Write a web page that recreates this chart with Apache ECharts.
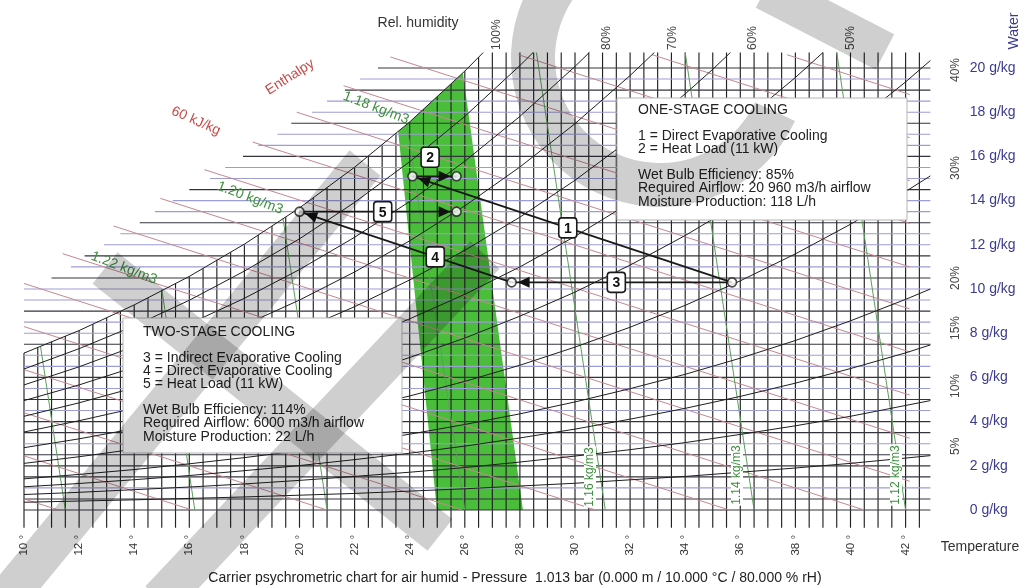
<!DOCTYPE html>
<html>
<head>
<meta charset="utf-8">
<script src="https://cdn.jsdelivr.net/npm/echarts/dist/echarts.min.js"></script>
<style>
  html, body { margin: 0; padding: 0; background: #ffffff; }
  #chart { width: 1024px; height: 588px; }
</style>
</head>
<body>
<div id="chart"></div>
<script>
// ---- Axis ticks -------------------------------------------------------
const tempTicks = [10, 12, 14, 16, 18, 20, 22, 24, 26, 28, 30, 32, 34, 36, 38, 40, 42];
const waterTicks = [0, 2, 4, 6, 8, 10, 12, 14, 16, 18, 20];

// dry-bulb isotherms (°C)
const isotherms = [10, 10.5, 11, 11.5, 12, 12.5, 13, 13.5, 14, 14.5, 15, 15.5, 16, 16.5, 17, 17.5,
  18, 18.5, 19, 19.5, 20, 20.5, 21, 21.5, 22, 22.5, 23, 23.5, 24, 24.5, 25, 25.5, 26, 26.5,
  27, 27.5, 28, 28.5, 29, 29.5, 30, 30.5, 31, 31.5, 32, 32.5, 33, 33.5, 34, 34.5, 35, 35.5,
  36, 36.5, 37, 37.5, 38, 38.5, 39, 39.5, 40, 40.5, 41, 41.5, 42, 42.5];

// constant water-content lines (g/kg) and the temperature where each one starts
const waterLevels = [0, 0.5, 1, 1.5, 2, 2.5, 3, 3.5, 4, 4.5, 5, 5.5, 6, 6.5, 7, 7.5, 8, 8.5, 9, 9.5,
  10, 10.5, 11, 11.5, 12, 12.5, 13, 13.5, 14, 14.5, 15, 15.5, 16, 16.5, 17, 17.5, 18, 18.5, 19, 19.5, 20];
const waterLineStart = [10, 10, 10, 10, 10, 10, 10, 10, 10, 10, 10, 10, 10, 10, 10, 10, 10, 10, 10, 10,
  10, 11.0, 11.7, 12.2, 12.9, 13.5, 14.2, 14.75, 15.4, 16.0, 16.75, 17.3, 17.95, 18.5, 19.2, 19.7,
  20.45, 21.0, 21.65, 22.2, 22.85];

// relative humidity curves [T °C, x g/kg]
const rh100 = [[10, 7.10], [12, 8.12], [14, 9.28], [16, 10.57], [18, 12.03], [20, 13.67], [22, 15.51], [24, 17.56], [26, 19.86], [26.67, 20.7]];
const rh90 = [[10, 6.38], [12, 7.30], [14, 8.33], [16, 9.49], [18, 10.81], [20, 12.27], [22, 13.92], [24, 15.76], [26, 17.81], [28, 20.11], [28.48, 20.7]];
const rh80 = [[10, 5.66], [12, 6.48], [14, 7.40], [16, 8.42], [18, 9.58], [20, 10.88], [22, 12.34], [24, 13.96], [26, 15.78], [28, 17.81], [30, 20.07], [30.52, 20.7]];
const rh70 = [[10, 4.95], [12, 5.66], [14, 6.46], [16, 7.36], [18, 8.37], [20, 9.50], [22, 10.77], [24, 12.18], [26, 13.76], [28, 15.52], [30, 17.48], [32, 19.66], [32.88, 20.7]];
const rh60 = [[10, 4.24], [12, 4.85], [14, 5.53], [16, 6.30], [18, 7.15], [20, 8.12], [22, 9.20], [24, 10.41], [26, 11.75], [28, 13.25], [30, 14.92], [32, 16.77], [34, 18.83], [35, 19.94], [35.64, 20.7]];
const rh50 = [[10, 3.53], [12, 4.04], [14, 4.60], [16, 5.24], [18, 5.95], [20, 6.76], [22, 7.65], [24, 8.65], [26, 9.76], [28, 11.00], [30, 12.38], [32, 13.91], [34, 15.61], [36, 17.49], [38, 19.57], [39, 20.7]];
const rh40 = [[10, 2.82], [12, 3.22], [14, 3.68], [16, 4.18], [18, 4.75], [20, 5.39], [22, 6.10], [24, 6.90], [26, 7.78], [28, 8.77], [30, 9.86], [32, 11.08], [34, 12.42], [36, 13.91], [38, 15.55], [40, 17.37], [42, 19.37], [42.9, 20.34]];
const rh30 = [[10, 2.11], [12, 2.41], [14, 2.75], [16, 3.13], [18, 3.56], [20, 4.04], [22, 4.57], [24, 5.16], [26, 5.82], [28, 6.55], [30, 7.37], [32, 8.27], [34, 9.26], [36, 10.37], [38, 11.59], [40, 12.93], [42, 14.41], [42.9, 15.12]];
const rh20 = [[10, 1.41], [12, 1.61], [14, 1.83], [16, 2.09], [18, 2.37], [20, 2.68], [22, 3.04], [24, 3.43], [26, 3.87], [28, 4.35], [30, 4.89], [32, 5.49], [34, 6.14], [36, 6.87], [38, 7.67], [40, 8.56], [42, 9.53], [42.9, 10.0]];
const rh15 = [[10, 1.05], [12, 1.20], [14, 1.37], [16, 1.56], [18, 1.78], [20, 2.01], [22, 2.28], [24, 2.57], [26, 2.89], [28, 3.26], [30, 3.66], [32, 4.11], [34, 4.60], [36, 5.14], [38, 5.74], [40, 6.40], [42, 7.11], [42.9, 7.47]];
const rh10 = [[10, 0.70], [12, 0.80], [14, 0.92], [16, 1.04], [18, 1.18], [20, 1.34], [22, 1.52], [24, 1.71], [26, 1.92], [28, 2.17], [30, 2.44], [32, 2.73], [34, 3.05], [36, 3.42], [38, 3.81], [40, 4.24], [42, 4.73], [42.9, 4.95]];
const rh5 = [[10, 0.35], [14, 0.46], [18, 0.59], [22, 0.75], [26, 0.96], [30, 1.21], [34, 1.52], [38, 1.90], [40, 2.11], [42, 2.35], [42.9, 2.46]];
const rhCurves = [rh100, rh90, rh80, rh70, rh60, rh50, rh40, rh30, rh20, rh15, rh10, rh5];

// enthalpy lines, 5 kJ/kg apart: [T1, x1, T2, x2]
const enthalpyLines = [
  [37.7, 20.6, 42.15, 18.8], [32.8, 20.6, 42.15, 16.85], [27.95, 20.6, 42.15, 14.9],
  [23.3, 20.5, 42.15, 12.97], [21.6, 19.2, 42.15, 11.0], [19.9, 18.0, 42.15, 9.1],
  [18.3, 16.65, 42.15, 7.15], [16.55, 15.4, 42.15, 5.2], [14.95, 14.1, 42.15, 3.25],
  [13.25, 12.85, 42.15, 1.3], [11.4, 11.6, 40.5, 0], [10, 10.25, 35.6, 0],
  [10, 8.3, 30.75, 0], [10, 6.35, 25.9, 0], [10, 4.4, 21.0, 0], [10, 2.45, 16.1, 0],
  [10, 0.5, 11.25, 0]
];

// air density lines: [T at 0 g/kg, 0, T at top, x at top]
const densityValues = [1.24, 1.22, 1.20, 1.18, 1.16, 1.14, 1.12];
const densityLines = [
  [11.5, 0, 10.6, 7.4], [16.2, 0, 15.0, 10.0], [21.0, 0, 19.4, 13.2], [26.0, 0, 23.9, 17.4],
  [31.1, 0, 28.6, 20.7], [36.5, 0, 34.0, 20.7], [42.0, 0, 39.5, 20.7]
];

// comfort zone (green band)
const comfortZone = [[25.93, 19.78], [23.58, 17.15], [24.99, 0], [28.11, 0]];

// air states of the cooling processes
const stateT = [35.7, 24.1, 25.7, 27.7, 20.0, 25.7];
const stateW = [10.3, 15.1, 15.1, 10.3, 13.5, 13.5];
const processFrom = [0, 1, 0, 3, 4];
const processTo = [1, 2, 3, 4, 5];
const processNames = ['1', '2', '3', '4', '5'];

// ---- Drawing ---------------------------------------------------------
const FONT = 'Liberation Sans, Arial, Helvetica, sans-serif';
const TOP_W = 20.7;      // upper end of the isotherms
const TICK_W = -0.8;     // lower end of the isotherm ticks
const RIGHT_T = 42.9;    // right end of the water lines
const strongWaterLevels = new Set([0, 0.5, 1.5, 2, 2.5, 3.5, 4, 5, 6, 7.5, 9, 10.5, 11.5, 13, 14.5, 16, 17.5, 19, 20]);
const labelAt = [0.514, 0.4, 0.525, 0.36, 0.53];
const labelShift = [0, -19, 0, 0, 0];

const chart = echarts.init(document.getElementById('chart'), null, { renderer: 'canvas' });

function txt(x, y, text, o) {
  o = o || {};
  return {
    type: 'text', x: x, y: y, rotation: o.rot || 0, z: 100, silent: true,
    style: {
      text: text, font: (o.weight || 'normal') + ' ' + (o.size || 14) + 'px ' + FONT,
      fill: o.color || '#222', align: o.align || 'center', verticalAlign: o.va || 'middle',
      backgroundColor: o.bg, padding: o.pad
    }
  };
}

const graphics = [];
// caption / axis names
graphics.push(txt(418, 23, 'Rel. humidity', { color: '#333' }));
graphics.push(txt(1014, 31, 'Water', { rot: Math.PI / 2, color: '#3b3b8f' }));
graphics.push(txt(980, 547, 'Temperature', { color: '#333' }));
graphics.push(txt(515, 578, 'Carrier psychrometric chart for air humid - Pressure  1.013 bar (0.000 m / 10.000 \u00b0C / 80.000 % rH)', { color: '#222' }));
// enthalpy captions
graphics.push(txt(290, 77, 'Enthalpy', { rot: 0.567, color: '#c64a4a' }));
graphics.push(txt(196, 121, '60 kJ/kg', { rot: -0.42, color: '#c64a4a' }));
// density captions
graphics.push(txt(376, 108, '1.18 kg/m3', { rot: -0.367, color: '#3f8f3f' }));
graphics.push(txt(250, 198, '1.20 kg/m3', { rot: -0.367, color: '#3f8f3f' }));
graphics.push(txt(124, 268, '1.22 kg/m3', { rot: -0.367, color: '#3f8f3f' }));
graphics.push(txt(590, 477, '1.16 kg/m3', { rot: Math.PI / 2, size: 12, color: '#3f8f3f', bg: '#fff', pad: [0, 1] }));
graphics.push(txt(737, 475, '1.14 kg/m3', { rot: Math.PI / 2, size: 12, color: '#3f8f3f', bg: '#fff', pad: [0, 1] }));
graphics.push(txt(896, 475, '1.12 kg/m3', { rot: Math.PI / 2, size: 12, color: '#3f8f3f', bg: '#fff', pad: [0, 1] }));
// relative humidity captions
[['100%', 497], ['80%', 607], ['70%', 673], ['60%', 753], ['50%', 851]].forEach(function (d) {
  graphics.push(txt(d[1], 50, d[0], { rot: Math.PI / 2, size: 12, align: 'left', color: '#444' }));
});
[['40%', 82], ['30%', 180], ['20%', 290], ['15%', 340], ['10%', 398], ['5%', 455]].forEach(function (d) {
  graphics.push(txt(956, d[1], d[0], { rot: Math.PI / 2, size: 12, align: 'left', color: '#444' }));
});
// info boxes
function infoBox(x, y, w, h, tx, lines) {
  graphics.push({ type: 'rect', z: 99, silent: true, shape: { x: x, y: y, width: w, height: h },
    style: { fill: '#ffffff', stroke: '#b5b5b5', lineWidth: 1 } });
  lines.forEach(function (l) {
    graphics.push(txt(tx, l[0], l[1], { align: 'left', color: '#222' }));
  });
}
infoBox(617, 98, 290, 122, 638, [
  [110, 'ONE-STAGE COOLING'],
  [136, '1 = Direct Evaporative Cooling'],
  [149, '2 = Heat Load (11 kW)'],
  [175, 'Wet Bulb Efficiency: 85%'],
  [188, 'Required Airflow: 20 960 m3/h airflow'],
  [202, 'Moisture Production: 118 L/h']
]);
infoBox(123, 318, 279, 135, 143, [
  [332, 'TWO-STAGE COOLING'],
  [358, '3 = Indirect Evaporative Cooling'],
  [371, '4 = Direct Evaporative Cooling'],
  [384, '5 = Heat Load (11 kW)'],
  [410, 'Wet Bulb Efficiency: 114%'],
  [423, 'Required Airflow: 6000 m3/h airflow'],
  [437, 'Moisture Production: 22 L/h']
]);

// translucent grey overlay strokes across the sheet
const shade = 'rgba(0,0,0,0.19)';
graphics.push({ type: 'arc', z: 150, silent: true,
  shape: { cx: 660, cy: 58, r: 127, startAngle: 25 * Math.PI / 180, endAngle: 300 * Math.PI / 180, clockwise: true },
  style: { stroke: shade, lineWidth: 44, fill: null, lineCap: 'butt' } });
[[765, -10, 885, 52], [5, 600, 365, 163], [105, 268, 440, 535], [160, 600, 485, 255]].forEach(function (s) {
  graphics.push({ type: 'line', z: 150, silent: true,
    shape: { x1: s[0], y1: s[1], x2: s[2], y2: s[3] },
    style: { stroke: shade, lineWidth: 40, lineCap: 'butt' } });
});

function seg(api, a, b, style) {
  const p = api.coord(a), q = api.coord(b);
  return { type: 'line', shape: { x1: p[0], y1: p[1], x2: q[0], y2: q[1] }, style: style };
}

const option = {
  animation: false,
  backgroundColor: '#ffffff',
  grid: { left: 24, right: 63.3, top: 23.8, bottom: 78, containLabel: false, outerBoundsMode: 'none' },
  xAxis: {
    type: 'value', min: 10, max: 44, interval: 2,
    axisLine: { show: false }, axisTick: { show: false }, splitLine: { show: false },
    axisLabel: {
      rotate: 90, margin: 25, fontSize: 11.5, fontFamily: FONT, color: '#333',
      formatter: function (v) { return tempTicks.indexOf(v) >= 0 ? v + ' \u00b0' : ''; }
    }
  },
  yAxis: {
    type: 'value', min: 0, max: 22, interval: 2, position: 'right',
    axisLine: { show: false }, axisTick: { show: false }, splitLine: { show: false },
    axisLabel: {
      margin: 9, fontSize: 14, fontFamily: FONT, color: '#3b3b8f', align: 'left',
      formatter: function (v) { return waterTicks.indexOf(v) >= 0 ? v + ' g/kg' : ''; }
    }
  },
  graphic: graphics,
  series: [
    { // comfort band
      type: 'custom', z: 1, clip: false, silent: true, data: [[0, 0]],
      renderItem: function (params, api) {
        return { type: 'polygon', shape: { points: comfortZone.map(function (p) { return api.coord(p); }) },
          style: { fill: '#4abd3a' } };
      }
    },
    { // isotherms with ticks below the base line
      type: 'custom', z: 2, clip: false, silent: true,
      data: isotherms.map(function (t) { return [t, 0]; }),
      renderItem: function (params, api) {
        const t = api.value(0);
        return seg(api, [t, TOP_W], [t, TICK_W], { stroke: '#222222', lineWidth: 1.15 });
      }
    },
    { // blank area above the saturation curve
      type: 'custom', z: 3, clip: false, silent: true, data: [[0, 0]],
      renderItem: function (params, api) {
        const pts = rh100.map(function (p) { return api.coord(p); });
        const last = rh100[rh100.length - 1];
        const tr = api.coord([last[0], 22.6]);
        const tl = api.coord([10, 22.6]);
        const first = api.coord(rh100[0]);
        pts.push(tr, [tl[0] - 4, tl[1]], [first[0] - 4, first[1]]);
        return { type: 'polygon', shape: { points: pts }, style: { fill: '#ffffff' } };
      }
    },
    { // water content lines
      type: 'custom', z: 4, clip: false, silent: true,
      data: waterLevels.map(function (w, i) { return [waterLineStart[i], w]; }),
      renderItem: function (params, api) {
        const t0 = api.value(0), w = api.value(1);
        const strong = strongWaterLevels.has(w);
        return seg(api, [t0, w], [RIGHT_T, w], { stroke: strong ? '#34343f' : '#9d9dd6', lineWidth: strong ? 1.15 : 1.1 });
      }
    },
    { // enthalpy lines
      type: 'custom', z: 5, clip: false, silent: true,
      data: enthalpyLines.map(function (l) { return l.slice(0, 2); }),
      renderItem: function (params, api) {
        const l = enthalpyLines[params.dataIndex];
        return seg(api, [l[0], l[1]], [l[2], l[3]], { stroke: '#c48890', lineWidth: 1 });
      }
    },
    { // density lines
      type: 'custom', z: 5, clip: false, silent: true,
      data: densityLines.map(function (l) { return l.slice(0, 2); }),
      renderItem: function (params, api) {
        const l = densityLines[params.dataIndex];
        return seg(api, [l[0], l[1]], [l[2], l[3]], { stroke: '#5c9f5c', lineWidth: 1 });
      }
    },
    { // relative humidity curves
      type: 'custom', z: 6, clip: false, silent: true,
      data: rhCurves.map(function (c) { return c[0]; }),
      renderItem: function (params, api) {
        const c = rhCurves[params.dataIndex];
        return { type: 'polyline', shape: { points: c.map(function (p) { return api.coord(p); }) },
          style: { stroke: '#1f1f1f', lineWidth: 1, fill: null } };
      }
    },
    { // cooling process lines
      type: 'custom', z: 10, clip: false, silent: true,
      data: processFrom.map(function (f) { return [stateT[f], stateW[f]]; }),
      renderItem: function (params, api) {
        const i = params.dataIndex;
        const a = api.coord([stateT[processFrom[i]], stateW[processFrom[i]]]);
        const b = api.coord([stateT[processTo[i]], stateW[processTo[i]]]);
        const dx = b[0] - a[0], dy = b[1] - a[1];
        const len = Math.sqrt(dx * dx + dy * dy), ux = dx / len, uy = dy / len;
        const nx = -uy, ny = ux;
        const tip = [b[0] - ux * 6, b[1] - uy * 6];
        const base = [b[0] - ux * 18, b[1] - uy * 18];
        const lx = a[0] + dx * labelAt[i], ly = a[1] + dy * labelAt[i] + labelShift[i];
        return { type: 'group', children: [
          { type: 'line', shape: { x1: a[0], y1: a[1], x2: b[0], y2: b[1] }, style: { stroke: '#1a1a1a', lineWidth: 1.8 } },
          { type: 'polygon', shape: { points: [tip, [base[0] + nx * 5.5, base[1] + ny * 5.5], [base[0] - nx * 5.5, base[1] - ny * 5.5]] },
            style: { fill: '#111' } },
          { type: 'rect', shape: { x: lx - 9, y: ly - 10, width: 18, height: 20, r: 3 },
            style: { fill: '#ffffff', stroke: '#1a1a1a', lineWidth: 1.6 } },
          { type: 'text', x: lx, y: ly + 1, style: { text: processNames[i], font: 'bold 14px ' + FONT, fill: '#111', align: 'center', verticalAlign: 'middle' } }
        ] };
      }
    },
    { // air states
      type: 'scatter', z: 11, silent: true, symbol: 'circle', symbolSize: 9,
      data: stateT.map(function (t, i) { return [t, stateW[i]]; }),
      itemStyle: { color: '#ffffff', borderColor: '#1a1a1a', borderWidth: 1.6 }
    }
  ]
};
chart.setOption(option);
</script>
</body>
</html>
